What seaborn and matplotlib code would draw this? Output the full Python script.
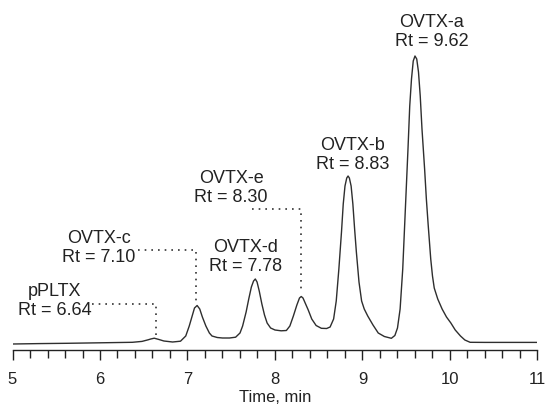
import matplotlib
matplotlib.use("Agg")
import matplotlib.pyplot as plt
from matplotlib.ticker import MultipleLocator
import pandas as pd
import seaborn as sns

# chromatogram trace (time in min, signal in arbitrary units)
time_min = [
    5.00, 5.30, 5.62, 6.00, 6.37, 6.48, 6.55, 6.58, 6.62, 6.67, 6.73, 6.83,
    6.92, 6.98, 7.02, 7.06, 7.08, 7.11, 7.14, 7.17, 7.21, 7.25, 7.28, 7.34,
    7.40, 7.48, 7.55, 7.60, 7.63, 7.67, 7.70, 7.73, 7.755, 7.775, 7.795, 7.82,
    7.85, 7.88, 7.91, 7.95, 8.00, 8.07, 8.13, 8.17, 8.21, 8.25, 8.28, 8.30,
    8.32, 8.35, 8.38, 8.42, 8.47, 8.53, 8.59, 8.63, 8.67, 8.70, 8.73, 8.76,
    8.78, 8.80, 8.82, 8.835, 8.85, 8.87, 8.89, 8.91, 8.93, 8.96, 8.99, 9.02,
    9.06, 9.12, 9.18, 9.25, 9.33, 9.37, 9.40, 9.43, 9.46, 9.49, 9.52, 9.54,
    9.56, 9.58, 9.60, 9.62, 9.64, 9.66, 9.68, 9.71, 9.73, 9.75, 9.78, 9.80,
    9.82, 9.86, 9.91, 9.96, 10.01, 10.06, 10.12, 10.17, 10.23, 10.40, 11.00,
]
signal = [
    0.0, 0.4, 0.7, 1.2, 1.7, 2.6, 4.2, 5.0, 5.8, 4.6, 3.0, 2.0,
    2.8, 8.0, 18.0, 30.0, 36.0, 38.5, 35.0, 27.0, 18.0, 11.0, 8.0, 6.5,
    6.0, 6.0, 6.8, 11.0, 18.0, 32.0, 45.0, 57.0, 63.0, 65.0, 62.0, 53.0,
    40.0, 29.0, 21.0, 16.0, 14.0, 13.2, 13.5, 18.0, 28.0, 39.0, 46.0, 47.5,
    46.0, 40.0, 34.0, 25.0, 18.5, 15.7, 15.5, 17.0, 25.0, 43.0, 75.0, 112.0,
    140.0, 158.0, 166.0, 168.0, 166.0, 158.0, 140.0, 115.0, 92.0, 62.0, 43.0, 35.0,
    28.0, 19.0, 11.0, 7.5, 5.7, 8.5, 16.0, 35.0, 75.0, 135.0, 195.0, 238.0,
    265.0, 283.0, 288.0, 285.0, 272.0, 248.0, 215.0, 175.0, 145.0, 120.0, 85.0, 68.0,
    56.0, 45.0, 35.0, 27.0, 21.0, 14.0, 8.0, 4.0, 1.7, 1.6, 1.6,
]

peak_names = ["pPLTX", "OVTX-c", "OVTX-d", "OVTX-e", "OVTX-b", "OVTX-a"]
peak_rt = [6.64, 7.10, 7.78, 8.30, 8.83, 9.62]

# label placement (centre of the two-line label)
label_pos = {
    "pPLTX": (5.48, 44),
    "OVTX-c": (5.99, 97),
    "OVTX-d": (7.66, 88),
    "OVTX-e": (7.50, 157),
    "OVTX-b": (8.89, 190),
    "OVTX-a": (9.79, 313),
}
# dotted leaders: (x where horizontal part starts, height of horizontal part, bottom of vertical part)
leaders = {
    "pPLTX": (5.91, 40, 5),
    "OVTX-c": (6.43, 94, 43),
    "OVTX-e": (7.74, 135, 55),
}

df = pd.DataFrame({"Time": time_min, "Signal": signal})

sns.set_theme(style="white")
plt.rcParams["font.family"] = ["Liberation Sans", "DejaVu Sans"]

fig = plt.figure(figsize=(5.46, 4.10), dpi=100)
ax = fig.add_axes([0.0229, 0.1439, 0.9615, 0.8439])

sns.lineplot(data=df, x="Time", y="Signal", ax=ax, color="#2e2e2e",
             linewidth=1.0, estimator=None, sort=False)

for name, rt in zip(peak_names, peak_rt):
    x, y = label_pos[name]
    ax.text(x, y, f"{name}\nRt = {rt:.2f}", ha="center", va="center",
            fontsize=13, linespacing=1.1, color="#222222")
    if name in leaders:
        x0, y_h, y_end = leaders[name]
        ax.plot([x0, rt, rt], [y_h, y_h, y_end], color="#333333",
                linewidth=1.2, linestyle=(0, (1, 3)))

ax.set_xlim(5, 11)
ax.set_ylim(-6, 340)
ax.xaxis.set_major_locator(MultipleLocator(1))
ax.xaxis.set_minor_locator(MultipleLocator(0.2))
ax.tick_params(axis="x", which="major", direction="out", length=7, width=1.0,
               color="#222222", labelsize=12, pad=8, labelcolor="#222222", bottom=True)
ax.tick_params(axis="x", which="minor", direction="out", length=6, width=1.0,
               color="#222222", bottom=True)
ax.set_yticks([])
ax.set_ylabel("")
ax.set_xlabel("Time, min", fontsize=12, labelpad=2, color="#222222")

sns.despine(ax=ax, left=True)
ax.spines["bottom"].set_color("#222222")
ax.spines["bottom"].set_linewidth(1.0)

fig.savefig("out.png", dpi=100)
